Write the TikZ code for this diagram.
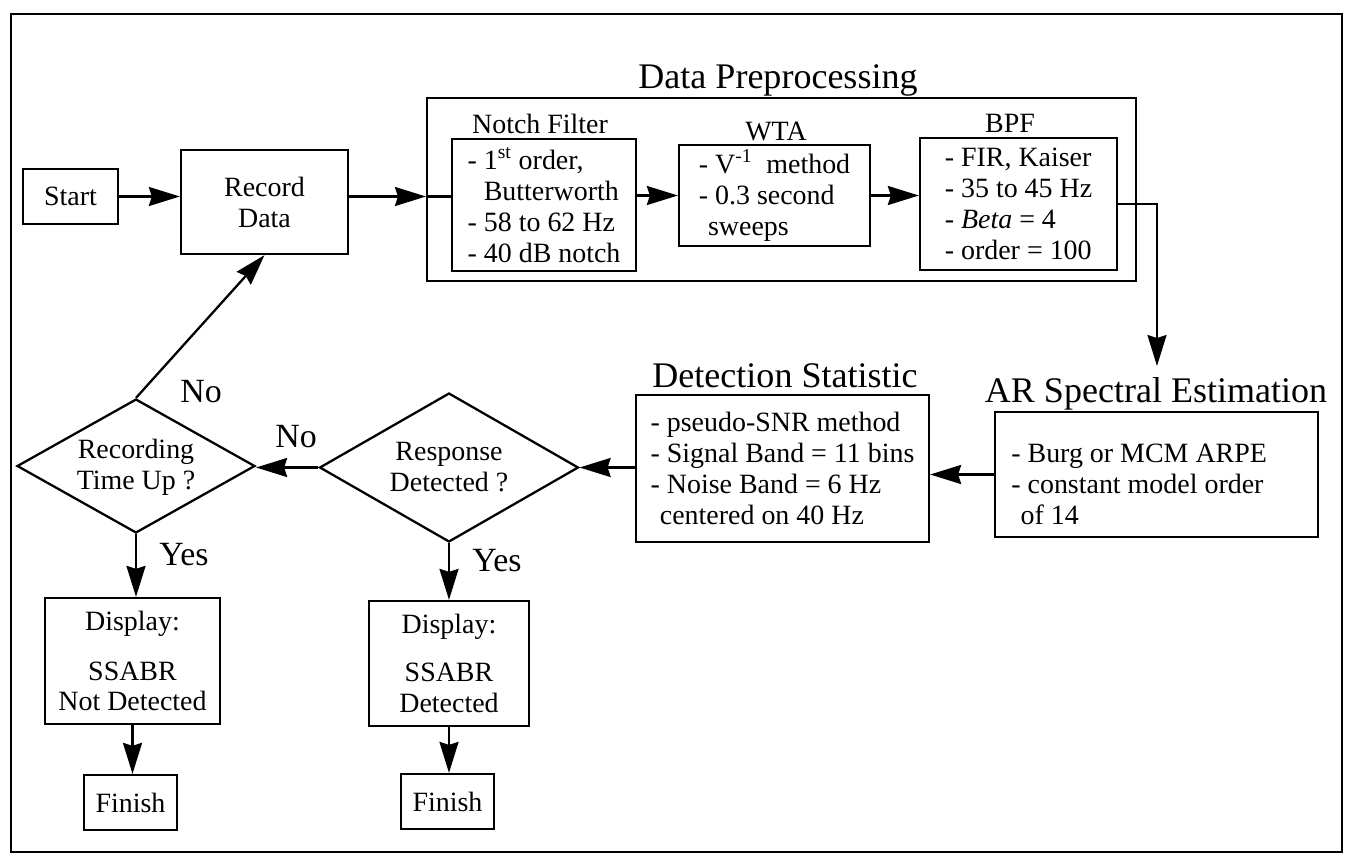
\documentclass[tikz,border=0pt]{standalone}
\usepackage{fontspec}
\setmainfont{Liberation Serif}
\usetikzlibrary{arrows.meta,shapes.geometric}
\begin{document}
\begin{tikzpicture}[x=0.02cm,y=-0.02cm,
  every node/.style={font=\fontsize{15.9}{17.6}\selectfont},
  box/.style={draw,line width=1.3pt,inner sep=0pt,align=left},
  cbox/.style={draw,line width=1.3pt,inner sep=0pt,align=center},
  ttl/.style={font=\fontsize{20.5}{24}\selectfont,anchor=base},
  sub/.style={anchor=base},
  yn/.style={font=\fontsize{19.3}{22}\selectfont,anchor=base},
  dia/.style={draw,diamond,line width=1.3pt,inner sep=0pt},
  arr/.style={line width=1.3pt,-{Stealth[length=0.62cm,width=0.38cm,inset=0.06cm]}},
  ln/.style={line width=1.3pt}
]
\useasboundingbox (0,0) rectangle (1356,860);
\draw[ln] (11,14) rectangle (1342,852);

% top row
\node[cbox,minimum width=1.9cm,minimum height=1.1cm] (start) at (70.5,196.5) {Start};
\node[cbox,minimum width=3.34cm,minimum height=2.08cm] (rec) at (264.5,202) {Record\\Data};

\node[draw,line width=1.3pt,inner sep=0pt,minimum width=14.18cm,minimum height=3.66cm] (pre) at (781.5,189.5) {};
\node[ttl] (pretitle) at (778,88) {Data Preprocessing};

\node[sub] (notchlbl) at (540,133) {Notch Filter};
\node[box,minimum width=3.68cm,minimum height=2.64cm] (notch) at (544,205)
  {- 1\textsuperscript{st} order,\\\hphantom{-}\ Butterworth\\- 58 to 62 Hz\\- 40 dB notch};

\node[sub] (wtalbl) at (776,140) {WTA};
\node[box,minimum width=3.82cm,minimum height=2.02cm] (wta) at (774.5,195.5)
  {- V\textsuperscript{-1}\ \ method\\- 0.3 second\\\hphantom{-}sweeps};

\node[sub] (bpflbl) at (1010,132) {BPF};
\node[box,minimum width=3.94cm,minimum height=2.64cm] (bpf) at (1018.5,204)
  {- FIR, Kaiser\\- 35 to 45 Hz\\- \textit{Beta} = 4\\- order = 100};

% middle row
\coordinate (artip) at (1157,366);
\node[ttl] (artitle) at (1156,402) {AR Spectral Estimation};
\node[draw,line width=1.3pt,inner sep=0pt,minimum width=6.46cm,minimum height=2.5cm] (ar) at (1156.5,474.5) {};
\node[anchor=west,align=left,inner sep=0pt] (artext) at (1011,484)
  {- Burg or MCM ARPE\\- constant model order\\\hphantom{-}of 14};

\node[ttl] (dettitle) at (785,387) {Detection Statistic};
\node[box,minimum width=5.86cm,minimum height=2.94cm] (det) at (782.5,468.5)
  {- pseudo-SNR method\\- Signal Band = 11 bins\\- Noise Band = 6 Hz\\\hphantom{-}centered on 40 Hz};

\node[dia,minimum width=5.18cm,minimum height=2.98cm] (resp) at (449,467.5) {};
\node[align=center,inner sep=0pt] (resptext) at (449,467) {Response\\Detected ?};
\node[dia,minimum width=4.76cm,minimum height=2.68cm] (rtu) at (136,466) {};
\node[align=center,inner sep=0pt] (rtutext) at (136,467) {Recording\\Time Up ?};

% bottom
\node[cbox,minimum width=3.5cm,minimum height=2.52cm] (disp1) at (132.5,661)
  {Display:\\[0.38cm]SSABR\\Not Detected};
\node[cbox,minimum width=3.2cm,minimum height=2.5cm] (disp2) at (449,663.5)
  {Display:\\[0.34cm]SSABR\\Detected};
\node[cbox,minimum width=1.86cm,minimum height=1.1cm] (fin1) at (130.5,802.5) {Finish};
\node[cbox,minimum width=1.86cm,minimum height=1.1cm] (fin2) at (447.5,801.5) {Finish};

% labels
\node[yn] (no1) at (201,402) {No};
\node[yn] (no2) at (296,447) {No};
\node[yn] (yes1) at (184,565) {Yes};
\node[yn] (yes2) at (497,571) {Yes};

% connectors
\draw[arr] (start.east) -- (start.east -| rec.west);
\draw[arr] (rec.east |- start.east) -- (pre.west |- start.east);
\draw[ln] (pre.west |- start.east) -- (notch.west |- start.east);
\draw[arr] (notch.east |- wta.west) -- (wta.west);
\draw[arr] (wta.east) -- (wta.east -| bpf.west);
\draw[arr] (bpf.east) -| (artip);
\draw[arr] (ar.west) -- (ar.west -| det.east);
\draw[arr] (det.west |- resp.east) -- (resp.east);
\draw[arr] (resp.west) -- (resp.west -| rtu.east);
\draw[arr] (rtu.north) -- (rec.south);
\draw[arr] (rtu.south) -- (rtu.south |- disp1.north);
\draw[arr] (resp.south) -- (resp.south |- disp2.north);
\draw[arr] (disp1.south) -- (disp1.south |- fin1.north);
\draw[arr] (disp2.south) -- (disp2.south |- fin2.north);
\end{tikzpicture}
\end{document}
